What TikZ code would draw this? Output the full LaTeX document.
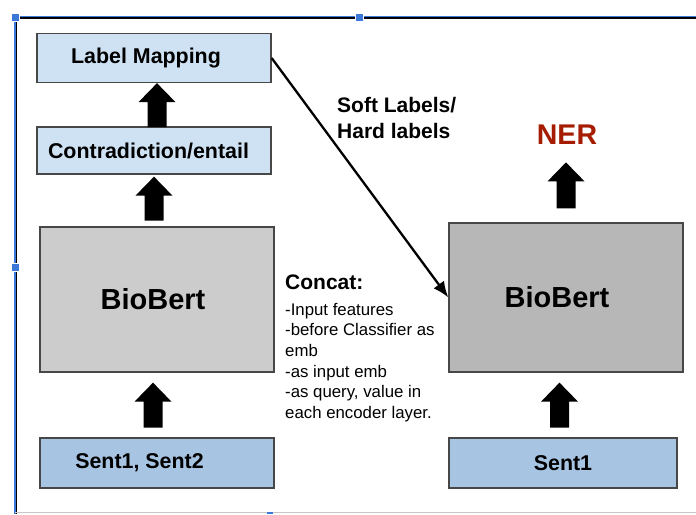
\documentclass[tikz,border=0pt]{standalone}
\usepackage{fontspec}
\setmainfont{Liberation Sans}
\usetikzlibrary{arrows.meta}

\definecolor{paleblue}{HTML}{CFE2F3}
\definecolor{sentblue}{HTML}{A7C4E3}
\definecolor{leftgray}{HTML}{CCCCCC}
\definecolor{rightgray}{HTML}{B7B7B7}
\definecolor{edgegray}{HTML}{474747}
\definecolor{nerred}{HTML}{A61C00}
\definecolor{selblue}{HTML}{3C78D8}

\tikzset{
  box/.style={draw=edgegray, line width=1.3pt, minimum width=234pt, inner sep=0pt},
  lightbox/.style={box, fill=paleblue, font=\fontsize{21.4}{25}\selectfont\bfseries},
  bertbox/.style={box, font=\fontsize{29}{33}\selectfont\bfseries},
  sentbox/.style={box, fill=sentblue, minimum height=50pt, font=\fontsize{21.4}{25}\selectfont\bfseries},
  handle/.style={fill=selblue, draw=white, line width=0.5pt, minimum size=8pt, inner sep=0pt},
  pics/fatarrow/.style={code={
    \fill (0,0) -- (18.5,19) -- (9.5,19) -- (9.5,#1) -- (-9.5,#1) -- (-9.5,19) -- (-18.5,19) -- cycle;
  }}
}

\begin{document}
\begin{tikzpicture}[x=1pt, y=-1pt, >={Latex[length=16pt,width=13pt]}]
\useasboundingbox (0,0) rectangle (696,514);

% selection frame
\draw[line width=3pt] (15,17.5) -- (696,17.5);
\draw[selblue, line width=1.4pt] (15,16.5) -- (696,16.5);
\draw[line width=3pt] (15,17) -- (15,514);
\draw[selblue, line width=1.2pt] (15,17) -- (15,514);
\draw[black!22, line width=1.2pt] (15,512.5) -- (696,512.5);
\node[handle] (hA) at (15,17) {};
\node[handle] (hB) at (359,17) {};
\node[handle] (hC) at (15,267) {};
\node[handle, minimum width=6pt, minimum height=2pt, draw=none] (hD) at (270,513) {};

% left column
\node[lightbox, minimum height=49pt] (map) at (154,58) {\raisebox{-2pt}{Label Mapping}\kern16pt};
\node[lightbox, minimum height=47pt] (contra) at (154,150.5) {Contradiction/entail\kern11pt};
\node[bertbox, fill=leftgray, minimum height=145pt] (bertA) at (157,299.5) {BioBert\kern8pt};
\node[sentbox] (sentA) at (157,463) {Sent1, Sent2\kern35pt};

% right column
\node[bertbox, fill=rightgray, minimum height=149pt] (bertB) at (566,297.5) {BioBert\kern18pt};
\node[sentbox, minimum width=228pt] (sentB) at (563,463) {Sent1};
\node[text=nerred, inner sep=0pt, font=\fontsize{28.5}{31}\selectfont\bfseries] (ner) at (567,135) {NER};

% fat arrows
\pic at ([xshift=3pt]map.south) {fatarrow=44};
\pic at ([yshift=-2pt]contra.south) {fatarrow=44};
\pic at ([xshift=-4pt,yshift=-10pt]bertA.south) {fatarrow=45};
\pic at ([xshift=-6.5pt,yshift=-10pt]bertB.south) {fatarrow=45};
\pic at ([yshift=60pt]bertB.north) {fatarrow=46};

% labels to ner model
\draw[->, line width=2.3pt] (map.east) -- (bertB.west);
\node[anchor=north west, align=left, inner sep=0pt, font=\fontsize{21}{26}\selectfont\bfseries] (soft) at (337,97) {Soft Labels/\\Hard labels};

% concat notes
\node[anchor=base west, inner sep=0pt, font=\fontsize{21}{24}\selectfont\bfseries] (concat) at (285,289.5) {Concat:};
\node[anchor=north west, align=left, inner sep=0pt, font=\fontsize{16.8}{20.6}\selectfont] (feats) at (285,303) {-Input features\\-before Classifier as\\emb\\-as input emb\\-as query, value in\\each encoder layer.};
\end{tikzpicture}
\end{document}
